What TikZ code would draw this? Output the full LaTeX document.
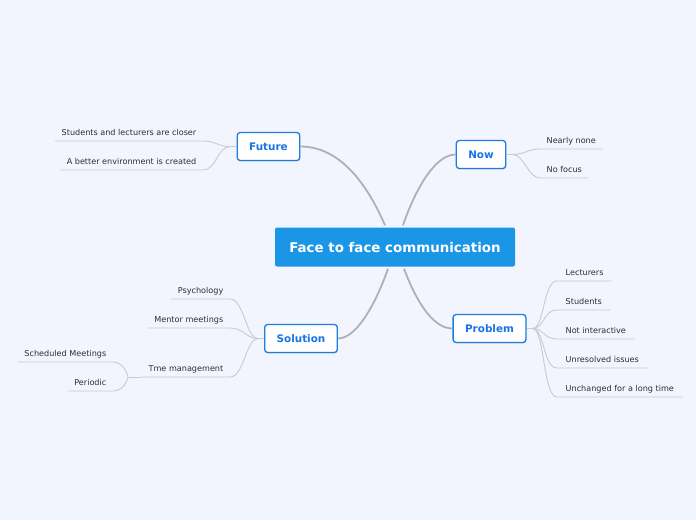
\documentclass[tikz,border=0pt]{standalone}
\usepackage{fontspec}
\setmainfont{DejaVu Sans}
\usetikzlibrary{shadows}
\definecolor{mybg}{RGB}{242,245,254}
\definecolor{myblue}{RGB}{27,150,230}
\definecolor{myedge}{RGB}{30,125,225}
\definecolor{mytext}{RGB}{25,115,230}
\definecolor{mygray}{RGB}{176,176,178}
\definecolor{mylight}{RGB}{200,202,210}

\begin{document}
\begin{tikzpicture}[x=1pt,y=-1pt,
  central/.style={fill=myblue, rounded corners=2pt, text=white, inner sep=0pt,
    font=\fontsize{13.4}{15}\selectfont\bfseries, minimum width=240pt, minimum height=39pt},
  topic/.style={draw=myedge, line width=1.3pt, fill=white, rounded corners=3pt, text=mytext,
    font=\fontsize{10.4}{12}\selectfont\bfseries, inner xsep=12pt, minimum height=28pt,
    drop shadow={shadow xshift=0.4pt, shadow yshift=-1.2pt, opacity=0.2}},
  leaf/.style={text=black!82, font=\fontsize{8.1}{9.5}\selectfont, inner xsep=6.5pt,
    inner ysep=0pt, text height=6pt, text depth=5.5pt},
  branch/.style={draw=mygray, line width=1.8pt},
  twig/.style={draw=mylight, line width=0.9pt}]

\fill[mybg] (0,0) rectangle (696,520);

\node[central] (root) at (395,247) {Face to face communication};
\node[topic] (future) at (268.5,146.5) {Future};
\node[topic] (now) at (481,154.5) {Now};
\node[topic] (solution) at (301,338.5) {Solution};
\node[topic] (problem) at (489.5,328.5) {Problem};

% main branches
\draw[branch] ([xshift=-10pt,yshift=2pt]root.north) .. controls +(-13,-30) and +(45,0) .. (future.east);
\draw[branch] ([xshift=8pt,yshift=2pt]root.north) .. controls +(12,-35) and +(-21,0) .. (now.west);
\draw[branch] ([xshift=-7pt,yshift=-2pt]root.south) .. controls +(-13,37) and +(18,0) .. (solution.east);
\draw[branch] ([xshift=9pt,yshift=-2pt]root.south) .. controls +(14,37) and +(-18,0) .. (problem.west);

% Future
\node[leaf, anchor=south east] (closer) at (203,141) {Students and lecturers are closer};
\node[leaf, anchor=south east] (better) at (203,170) {A better environment is created};
\draw[twig] (future.west) -- ++(-6,0) coordinate (fj);
\foreach \n in {closer,better}
  \draw[twig] (fj) .. controls +(-14,0) and +(14,0) .. (\n.south east) -- (\n.south west);

% Now
\node[leaf, anchor=south west] (nearly) at (540,149) {Nearly none};
\node[leaf, anchor=south west] (focus) at (540,178) {No focus};
\draw[twig] (now.east) -- ++(6,0) coordinate (nj);
\foreach \n in {nearly,focus}
  \draw[twig] (nj) .. controls +(12,0) and +(-12,0) .. (\n.south west) -- (\n.south east);

% Problem
\node[leaf, anchor=south west, inner xsep=8.5pt] (lect) at (557,281) {Lecturers};
\node[leaf, anchor=south west, inner xsep=8.5pt] (stud) at (557,310) {Students};
\node[leaf, anchor=south west, inner xsep=8.5pt] (inter) at (557,339) {Not interactive};
\node[leaf, anchor=south west, inner xsep=8.5pt] (issues) at (557,368) {Unresolved issues};
\node[leaf, anchor=south west, inner xsep=8.5pt] (unch) at (557,397) {Unchanged for a long time};
\draw[twig] (problem.east) -- ++(6,0) coordinate (pj);
\foreach \n in {lect,stud,inter,issues,unch}
  \draw[twig] (pj) .. controls +(12,0) and +(-14,0) .. (\n.south west) -- (\n.south east);

% Solution
\node[leaf, anchor=south east] (psych) at (230,299) {Psychology};
\node[leaf, anchor=south east] (mentor) at (230,328) {Mentor meetings};
\node[leaf, anchor=south east] (time) at (230,377) {Tme management};
\draw[twig] (solution.west) -- ++(-6,0) coordinate (sj);
\foreach \n in {psych,mentor,time}
  \draw[twig] (sj) .. controls +(-12,0) and +(14,0) .. (\n.south east) -- (\n.south west);

\node[leaf, anchor=south east] (sched) at (113,362) {Scheduled Meetings};
\node[leaf, anchor=south east] (period) at (113,391) {Periodic};
\draw[twig] (time.south west) -- (128,377) coordinate (tj);
\foreach \n in {sched,period}
  \draw[twig] (tj) .. controls +(0,0) and +(12,0) .. (\n.south east) -- (\n.south west);

\end{tikzpicture}
\end{document}
